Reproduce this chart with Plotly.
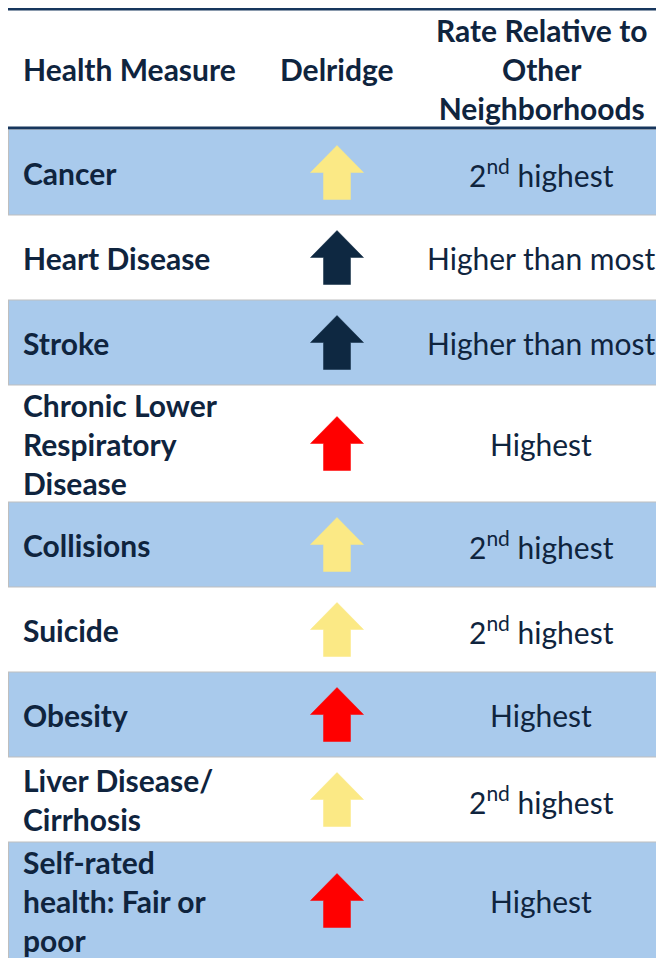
import plotly.graph_objects as go

# ---- data ----
measures = ["Cancer", "Heart Disease", "Stroke",
            "Chronic Lower<br>Respiratory<br>Disease",
            "Collisions", "Suicide", "Obesity",
            "Liver Disease/<br>Cirrhosis",
            "Self-rated<br>health: Fair or<br>poor"]
arrow_level = ["second", "higher", "higher", "highest", "second",
               "second", "highest", "second", "highest"]
rates = ["2<sup>nd</sup> highest", "Higher than most", "Higher than most",
         "Highest", "2<sup>nd</sup> highest", "2<sup>nd</sup> highest",
         "Highest", "2<sup>nd</sup> highest", "Highest"]
headers = ["Health Measure", "Delridge", "Rate Relative to<br>Other<br>Neighborhoods"]

# ---- style ----
W, H = 664, 958
TEXT = "#0f243e"
BLUE = "#a9caec"
GRID = "#bfbfbf"
RULE = "#17365d"
ARROW_COLORS = {"second": "#fbe985", "higher": "#0e2841", "highest": "#ff0000"}
FONT = "Lato"
FS = 30

left, right = 0, 700
x_measure, x_arrow, x_rate = 13, 329, 533
top_rule, header_rule, rows_top = 1, 120, 122

fig = go.Figure()
shapes = []
annotations = []

# rows
y = rows_top
row_bounds = []
for i, m in enumerate(measures):
    nlines = m.count("<br>") + 1
    h = 117 if nlines >= 3 else 85
    row_bounds.append((y, y + h))
    y += h

for i, (y0, y1) in enumerate(row_bounds):
    if i % 2 == 0:
        shapes.append(dict(type="rect", xref="x", yref="y", x0=left, x1=right,
                           y0=y0, y1=y1, fillcolor=BLUE, line=dict(width=0),
                           layer="below"))
        shapes.append(dict(type="line", xref="x", yref="y", x0=left + 0.5, x1=left + 0.5,
                           y0=y0, y1=y1, line=dict(color=GRID, width=1)))
    if i > 0:
        shapes.append(dict(type="line", xref="x", yref="y", x0=left, x1=right,
                           y0=y0, y1=y0, line=dict(color=GRID, width=1)))

# heavy rules
for yy in (top_rule, header_rule):
    shapes.append(dict(type="line", xref="x", yref="y", x0=left, x1=right,
                       y0=yy, y1=yy, line=dict(color=RULE, width=3)))

# header text
hc = (top_rule + header_rule) / 2
annotations.append(dict(x=x_measure, y=hc, text="<b>" + headers[0] + "</b>",
                        xanchor="left", yanchor="middle", showarrow=False))
annotations.append(dict(x=x_arrow, y=hc, text="<b>" + headers[1] + "</b>",
                        xanchor="center", yanchor="middle", showarrow=False))
annotations.append(dict(x=x_rate, y=hc,
                        text="<br>".join("<b>" + s + "</b>" for s in headers[2].split("<br>")),
                        xanchor="center", yanchor="middle", showarrow=False))

# arrows (block up-arrows, geometry relative to row centre)
head_hw, shaft_hw, half_h = 26.5, 13.5, 27
for i, (y0, y1) in enumerate(row_bounds):
    c = (y0 + y1) / 2
    xs = [x_arrow, x_arrow + head_hw, x_arrow + shaft_hw, x_arrow + shaft_hw,
          x_arrow - shaft_hw, x_arrow - shaft_hw, x_arrow - head_hw, x_arrow]
    ys = [c - half_h, c, c, c + half_h, c + half_h, c, c, c - half_h]
    col = ARROW_COLORS[arrow_level[i]]
    fig.add_trace(go.Scatter(x=xs, y=ys, mode="lines", fill="toself",
                             fillcolor=col, line=dict(color=col, width=0.5),
                             hoverinfo="skip", showlegend=False))
    annotations.append(dict(x=x_measure, y=c,
                            text="<br>".join("<b>" + s + "</b>" for s in measures[i].split("<br>")),
                            xanchor="left", yanchor="middle", align="left",
                            showarrow=False))
    annotations.append(dict(x=x_rate, y=c, text=rates[i], xanchor="center",
                            yanchor="middle", showarrow=False))

fig.update_layout(
    width=W, height=H, margin=dict(l=0, r=0, t=0, b=0),
    paper_bgcolor="white", plot_bgcolor="white",
    font=dict(family=FONT, size=FS, color=TEXT),
    xaxis=dict(range=[0, W], visible=False, fixedrange=True),
    yaxis=dict(range=[H, 0], visible=False, fixedrange=True),
    shapes=shapes, annotations=annotations, showlegend=False,
)
fig.write_html("out.html")
